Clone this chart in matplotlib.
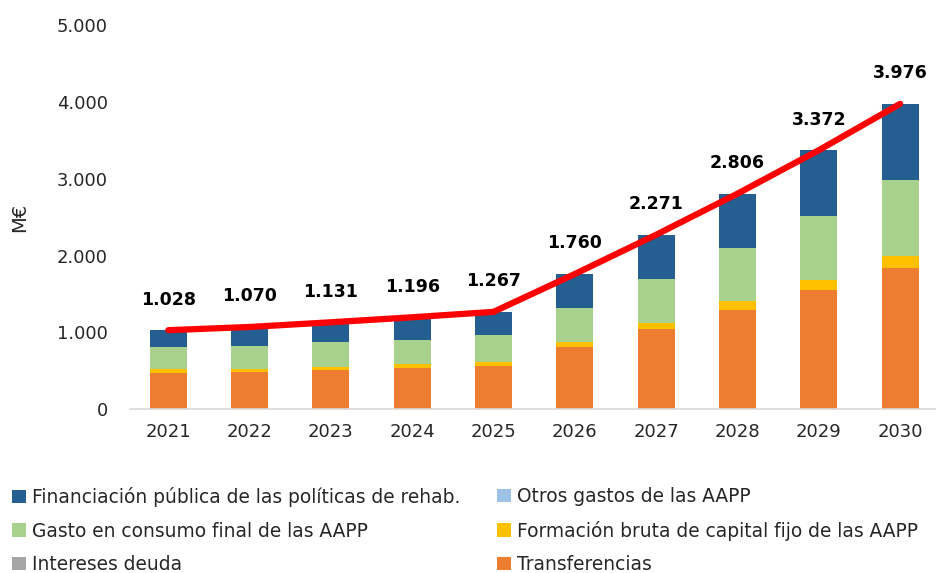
import matplotlib
matplotlib.use("Agg")
import matplotlib.pyplot as plt
import numpy as np
from matplotlib.patches import Patch

years = ["2021", "2022", "2023", "2024", "2025", "2026", "2027", "2028", "2029", "2030"]
transferencias = [470, 489, 505, 537, 567, 805, 1040, 1293, 1557, 1840]
intereses = [0, 0, 0, 0, 0, 0, 0, 0, 0, 0]
formacion = [55, 30, 48, 52, 52, 65, 83, 112, 130, 151]
gasto_consumo = [280, 300, 317, 313, 352, 452, 568, 690, 825, 990]
otros_gastos = [0, 0, 0, 0, 0, 0, 0, 0, 0, 0]
financiacion = [223, 251, 261, 294, 296, 438, 580, 711, 860, 995]
totales = [1028, 1070, 1131, 1196, 1267, 1760, 2271, 2806, 3372, 3976]
yticks = [0, 1000, 2000, 3000, 4000, 5000]
ytick_labels = ["0", "1.000", "2.000", "3.000", "4.000", "5.000"]

series = [
    ("Transferencias", transferencias, "#ED7D31"),
    ("Intereses deuda", intereses, "#A5A5A5"),
    ("Formación bruta de capital fijo de las AAPP", formacion, "#FFC000"),
    ("Gasto en consumo final de las AAPP", gasto_consumo, "#A9D18E"),
    ("Otros gastos de las AAPP", otros_gastos, "#9DC3E6"),
    ("Financiación pública de las políticas de rehab.", financiacion, "#255E91"),
]

plt.rcParams['font.family'] = ['DejaVu Sans']
fig = plt.figure(figsize=(9.36, 5.73), dpi=100)
ax = fig.add_axes([0.139, 0.286, 0.86, 0.670])

x = np.arange(len(years))
bottom = np.zeros(len(years))
for name, vals, col in series:
    v = np.array(vals, dtype=float)
    ax.bar(x, v, bottom=bottom, width=0.455, color=col, zorder=2)
    bottom += v

ax.plot(x, totales, color="#FF0000", linewidth=4.5, solid_capstyle='round', zorder=3)
for xi, t in zip(x, totales):
    s = f"{t:,}".replace(",", ".")
    ax.annotate(s, (xi, t), xytext=(0, 22), textcoords="offset points",
                ha="center", va="center", fontsize=12.5, fontweight="bold", color="#000000")

ax.set_xlim(-0.47, 9.43)
ax.set_ylim(0, 5000)
ax.set_xticks(x)
ax.set_xticklabels(years, fontsize=13, color="#262626")
ax.set_yticks(yticks)
ax.set_yticklabels(ytick_labels, fontsize=13, color="#262626")
ax.tick_params(axis='both', length=0)
ax.tick_params(axis='y', pad=16)
ax.tick_params(axis='x', pad=10)
for sp in ["top", "right", "left"]:
    ax.spines[sp].set_visible(False)
ax.spines["bottom"].set_color("#D9D9D9")
ax.spines["bottom"].set_linewidth(1.2)
ax.set_ylabel("M€", fontsize=14, color="#262626")
ax.yaxis.set_label_coords(-0.125, 0.5)

colors = {n: c for n, _, c in series}
col1 = [
    "Financiación pública de las políticas de rehab.",
    "Gasto en consumo final de las AAPP",
    "Intereses deuda",
]
col2 = [
    "Otros gastos de las AAPP",
    "Formación bruta de capital fijo de las AAPP",
    "Transferencias",
]
for names, xpos in [(col1, 12 / 936), (col2, 497 / 936)]:
    handles = [Patch(facecolor=colors[n], edgecolor='none') for n in names]
    leg = fig.legend(handles, names, ncol=1, loc="upper left",
                     bbox_to_anchor=(xpos, 1 - 487 / 573), frameon=False,
                     prop={'size': 13.4}, borderpad=0,
                     handlelength=0.75, handleheight=0.75, handletextpad=0.35,
                     labelspacing=0.78, borderaxespad=0)
    for t in leg.get_texts():
        t.set_color("#262626")

fig.savefig("out.png", dpi=100)
